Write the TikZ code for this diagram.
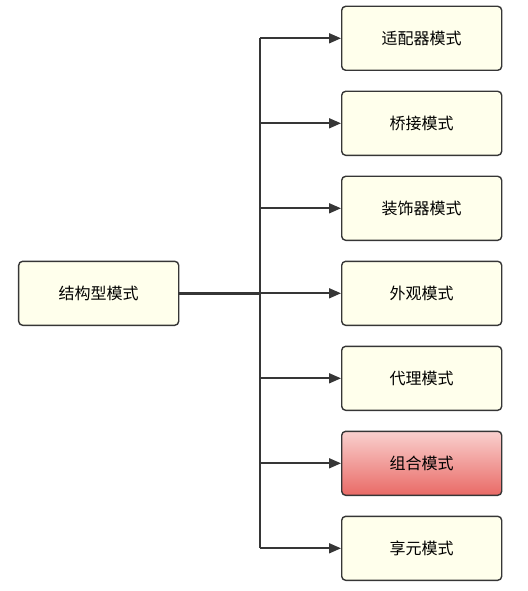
\documentclass[tikz,border=0pt]{standalone}
\usepackage{fontspec}
\newfontfamily\cjk{Noto Sans CJK SC}
\usetikzlibrary{arrows.meta,positioning}
\definecolor{boxfill}{RGB}{255,255,236}
\definecolor{linegray}{RGB}{54,54,54}
\definecolor{redtop}{RGB}{249,208,206}
\definecolor{redbot}{RGB}{233,106,102}

\begin{document}
\begin{tikzpicture}[x=1bp,y=-1bp,
    pattern/.style={draw=linegray,line width=1.4bp,rounded corners=4bp,fill=boxfill,
      minimum width=160bp,minimum height=64bp,inner sep=0pt,
      font=\cjk\fontsize{16bp}{19bp}\selectfont},
    hot/.style={pattern,top color=redtop,bottom color=redbot},
    link/.style={draw=linegray,line width=1.8bp},
    arr/.style={link,-{Triangle[length=12bp,width=10bp]}}]
        \useasboundingbox (0,0) rectangle (528,591);
        \node[pattern] (root) at (98.7,293.3) {结构型模式};
        \foreach \i/\t/\s in {1/适配器模式/pattern,2/桥接模式/pattern,3/装饰器模式/pattern,4/外观模式/pattern,
                              5/代理模式/pattern,6/组合模式/hot,7/享元模式/pattern}
          \node[\s] (c\i) at (421.7,{38.3+85*(\i-1)}) {\t};
        \coordinate (fork) at (260,293.3);
        \draw[link,line width=2.6bp] (root.east) -- (fork);
        \draw[link] (fork |- c1.west) -- (fork |- c7.west);
        \foreach \i in {1,...,7}
          \draw[arr] (fork |- c\i.west) -- (c\i.west);
      \end{tikzpicture}
\end{document}
